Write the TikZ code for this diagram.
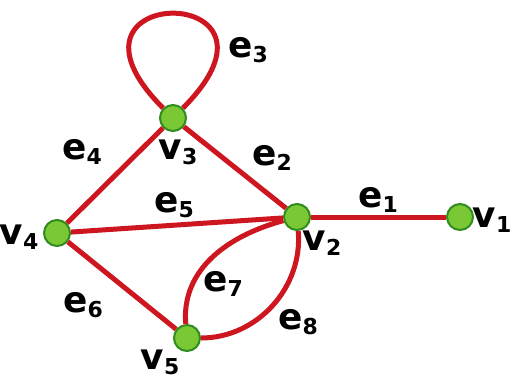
\documentclass[tikz,border=0pt]{standalone}
\usepackage{fontspec}
\setmainfont{DejaVu Sans}
\usetikzlibrary{arrows.meta,positioning}
\definecolor{edgered}{RGB}{205,22,32}
\definecolor{vertgreen}{RGB}{122,200,52}
\definecolor{vertrim}{RGB}{48,140,30}
\newcommand{\lbl}[2]{#1\raisebox{-5bp}{\fontsize{22}{24}\selectfont #2}}

\begin{document}
\begin{tikzpicture}[x=1bp, y=1bp, every node/.style={font=\fontsize{36}{40}\selectfont\bfseries, inner sep=0pt}, >=Latex,
  vert/.style={circle, draw=vertrim, fill=vertgreen, line width=2bp, minimum size=26bp},
  edge/.style={draw=edgered, line width=5bp}]
\useasboundingbox (0,0) rectangle (510,381);
% vertices
\node[vert] (v3) at (173,263) {};
\node[vert] (v2) at (297,164) {};
\node[vert] (v1) at (460,164) {};
\node[vert] (v4) at (57,148) {};
\node[vert] (v5) at (187,43) {};
% edges
\draw[edge] (v2) -- (v1);
\draw[edge] (v3) -- (v2);
\draw[edge] (v3) to[out=135, in=45, distance=179bp] (v3);
\draw[edge] (v4) -- (v3);
\draw[edge] (v4) -- (v2);
\draw[edge] (v4) -- (v5);
\draw[edge] (v5) to[out=95, in=195] (v2);
\draw[edge] (v2) to[out=-85, in=0] (v5);
% vertex labels
\node (lv1) at (492,161) {\lbl{v}{1}};
\node (lv2) at (322,138) {\lbl{v}{2}};
\node (lv3) at (178,229) {\lbl{v}{3}};
\node (lv4) at (19,144) {\lbl{v}{4}};
\node (lv5) at (160,19) {\lbl{v}{5}};
% edge labels
\node (le1) at (378,181) {\lbl{e}{1}};
\node (le2) at (272,223) {\lbl{e}{2}};
\node (le3) at (248,331) {\lbl{e}{3}};
\node (le4) at (82,229) {\lbl{e}{4}};
\node (le5) at (174,176) {\lbl{e}{5}};
\node (le6) at (83,76) {\lbl{e}{6}};
\node (le7) at (223,97) {\lbl{e}{7}};
\node (le8) at (298,59) {\lbl{e}{8}};
\end{tikzpicture}
\end{document}
